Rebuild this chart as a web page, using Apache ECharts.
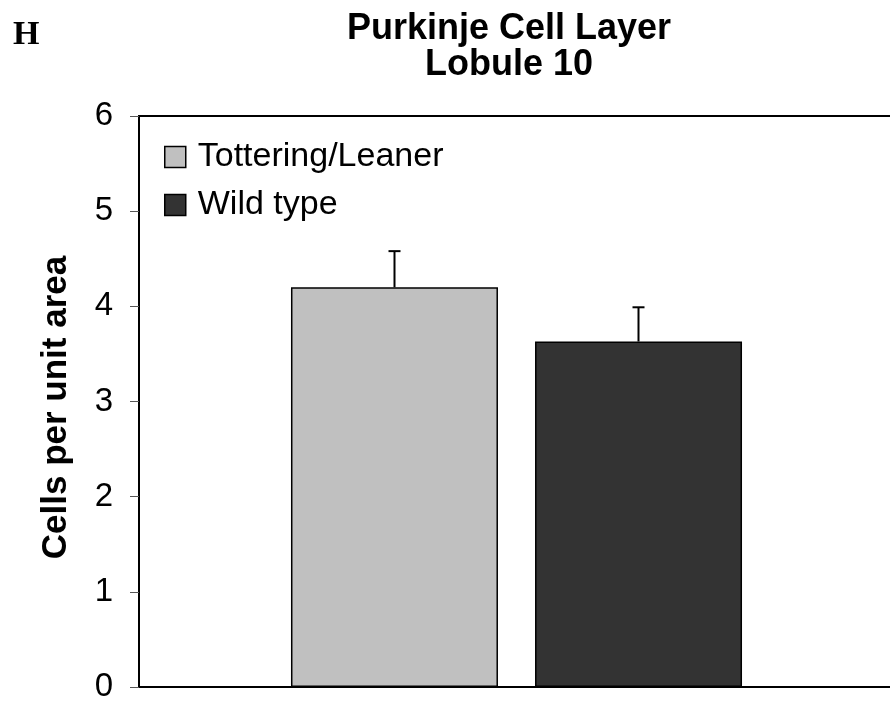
<!DOCTYPE html>
<html>
<head>
<meta charset="utf-8">
<script src="https://cdn.jsdelivr.net/npm/echarts@6/dist/echarts.min.js"></script>
<style>
  html, body { margin: 0; padding: 0; background: #fff; }
  #chart { width: 890px; height: 702px; }
</style>
</head>
<body>
<div id="chart"></div>
<script>
// Purkinje cell density, lobule 10 (mean with upper SEM bar)
const groups = ['Lobule 10'];
const seriesNames = ['Tottering/Leaner', 'Wild type'];
const means = [4.20, 3.63];
const errors = [0.38, 0.36];
const yTicks = [0, 1, 2, 3, 4, 5, 6];
const colors = ['#C0C0C0', '#333333'];

const BAR_W = 207;
const BAR_GAP = 37;
const SANS = '"Liberation Sans", Arial, sans-serif';

const chart = echarts.init(document.getElementById('chart'), null, { renderer: 'canvas' });

const barSeries = seriesNames.map((name, i) => ({
  name: name,
  type: 'bar',
  data: [means[i]],
  barWidth: BAR_W,
  barGap: (BAR_GAP / BAR_W * 100).toFixed(1) + '%',
  itemStyle: { color: colors[i], borderColor: '#000', borderWidth: 1.5 },
  z: 2
}));

// Upper error whisker drawn at each bar's centre
const errorSeries = {
  type: 'custom',
  name: 'error',
  data: means.map((m, i) => [0, m, errors[i], i]),
  renderItem: function (params, api) {
    const idx = api.value(3);
    const n = seriesNames.length;
    const shift = (idx - (n - 1) / 2) * (BAR_W + BAR_GAP);
    const base = api.coord([api.value(0), api.value(1)]);
    const top = api.coord([api.value(0), api.value(1) + api.value(2)]);
    const x = base[0] + shift;
    const cap = 6;
    return {
      type: 'group',
      children: [
        { type: 'line', shape: { x1: x, y1: base[1], x2: x, y2: top[1] },
          style: { stroke: '#000', lineWidth: 2 } },
        { type: 'line', shape: { x1: x - cap, y1: top[1], x2: x + cap, y2: top[1] },
          style: { stroke: '#000', lineWidth: 2 } }
      ]
    };
  },
  z: 3,
  silent: true
};

chart.setOption({
  animation: false,
  backgroundColor: '#fff',
  graphic: [
    { type: 'text', left: 13, top: 18,
      style: { text: 'H', font: 'bold 34px "Liberation Serif", "Times New Roman", serif', fill: '#000' } },
    { type: 'text', x: 509, y: 29,
      style: { text: 'Purkinje Cell Layer', font: 'bold 36px ' + SANS,
               fill: '#000', textAlign: 'center', textVerticalAlign: 'middle' } },
    { type: 'text', x: 509, y: 65,
      style: { text: 'Lobule 10', font: 'bold 36px ' + SANS,
               fill: '#000', textAlign: 'center', textVerticalAlign: 'middle' } }
  ],
  legend: {
    data: seriesNames,
    orient: 'vertical',
    left: 164,
    top: 140,
    padding: 0,
    itemWidth: 21,
    itemHeight: 21,
    itemGap: 14,
    icon: 'rect',
    itemStyle: { borderColor: '#000', borderWidth: 1.5 },
    textStyle: { fontFamily: SANS, fontSize: 34, color: '#000', padding: [0, 0, 0, 7] },
    selectedMode: false
  },
  grid: {
    left: 139, top: 116, right: -4, bottom: 15,
    show: true, borderColor: '#000', borderWidth: 2, backgroundColor: 'transparent',
    outerBoundsMode: 'none', containLabel: false
  },
  xAxis: {
    type: 'category',
    data: groups,
    axisLine: { lineStyle: { color: '#000', width: 2 } },
    axisTick: { show: false },
    axisLabel: { show: false },
    splitLine: { show: false }
  },
  yAxis: {
    type: 'value',
    min: yTicks[0],
    max: yTicks[yTicks.length - 1],
    interval: 1,
    name: 'Cells per unit area',
    nameLocation: 'middle',
    nameGap: 65,
    nameRotate: 90,
    nameTextStyle: { fontFamily: SANS, fontSize: 35, fontWeight: 'bold', color: '#000',
                     padding: [0, 12, 0, 0] },
    axisLine: { show: true, lineStyle: { color: '#000', width: 2 } },
    axisTick: { show: true, length: 9, lineStyle: { color: '#555', width: 1 } },
    axisLabel: { fontFamily: SANS, fontSize: 33, color: '#000', margin: 26 },
    splitLine: { show: false }
  },
  series: [...barSeries, errorSeries]
});
</script>
</body>
</html>
